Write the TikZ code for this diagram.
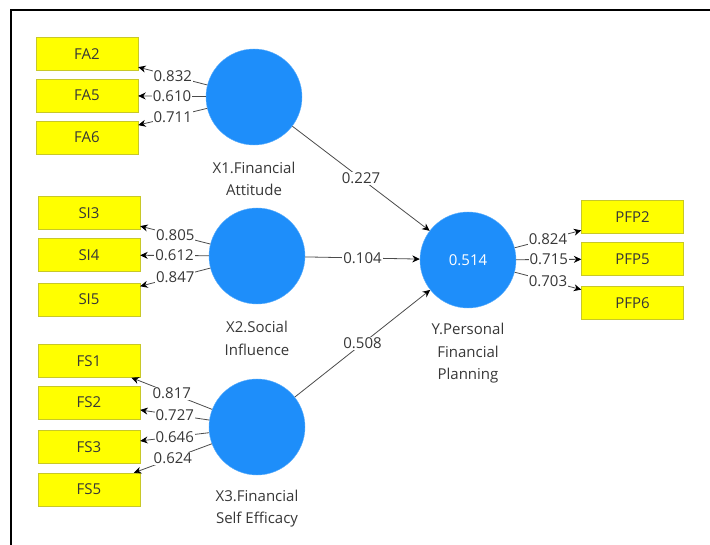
\documentclass[tikz,border=0pt]{standalone}
\usepackage{fontspec}
\setmainfont{Open Sans}
\usetikzlibrary{arrows.meta}
\definecolor{lvblue}{RGB}{30,142,250}
\definecolor{mvyellow}{RGB}{255,255,0}
\definecolor{mvedge}{RGB}{200,200,40}
\definecolor{txtgray}{RGB}{55,55,55}
\definecolor{linegray}{RGB}{75,75,75}

\begin{document}
\begin{tikzpicture}[x=1pt,y=-1pt,
  font=\fontsize{15}{22.5}\selectfont, text=txtgray,
  latent/.style={circle,fill=lvblue,draw=lvblue!70!white,minimum size=96pt,inner sep=0pt,text=white},
  mv/.style={rectangle,fill=mvyellow,draw=mvedge,minimum width=102pt,minimum height=33pt,inner sep=0pt},
  lname/.style={align=center},
  load/.style={fill=white,inner sep=1pt},
  conn/.style={draw=linegray,line width=0.8pt,-{Stealth[length=7.5pt,width=7pt,color=black]}}]
\useasboundingbox (0,0) rectangle (710,545);
\draw [line width=2pt] (11,545) -- (11,10) -- (710,10);

% latent variables
  \node (x1) at (254,97) [latent] {};
  \node (x2) at (257,256) [latent] {};
  \node (x3) at (257,427) [latent] {};
  \node (y) at (468,260) [latent] {0.514};

  \node (x1name) at (254,179) [lname] {X1.Financial\\Attitude};
  \node (x2name) at (257,338.5) [lname] {X2.Social\\Influence};
  \node (x3name) at (257,508.5) [lname] {X3.Financial\\Self Efficacy};
  \node (yname) at (468,353.5) [lname] {Y.Personal\\Financial\\Planning};

% indicators
  \node (fa2) at (87,54) [mv] {FA2};
  \node (fa5) at (87,95.5) [mv] {FA5};
  \node (fa6) at (87,137.5) [mv] {FA6};

  \node (si3) at (89,213) [mv] {SI3};
  \node (si4) at (89,255) [mv] {SI4};
  \node (si5) at (89,299.5) [mv] {SI5};

  \node (fs1) at (89,361) [mv] {FS1};
  \node (fs2) at (89,402.5) [mv] {FS2};
  \node (fs3) at (89,447) [mv] {FS3};
  \node (fs5) at (89,489.5) [mv] {FS5};

  \node (pfp2) at (632.5,217) [mv] {PFP2};
  \node (pfp5) at (632.5,259) [mv] {PFP5};
  \node (pfp6) at (632.5,303) [mv] {PFP6};

% outer loadings
  \draw [conn] (x1) -- node [load] {0.832} (fa2);
  \draw [conn] (x1) -- node [load] {0.610} (fa5);
  \draw [conn] (x1) -- node [load] {0.711} (fa6);

  \draw [conn] (x2) -- node [load] {0.805} (si3);
  \draw [conn] (x2) -- node [load] {0.612} (si4);
  \draw [conn] (x2) -- node [load] {0.847} (si5);

  \draw [conn] (x3) -- node [load] {0.817} (fs1);
  \draw [conn] (x3) -- node [load] {0.727} (fs2);
  \draw [conn] (x3) -- node [load] {0.646} (fs3);
  \draw [conn] (x3) -- node [load] {0.624} (fs5);

  \draw [conn] (y) -- node [load] {0.824} (pfp2);
  \draw [conn] (y) -- node [load] {0.715} (pfp5);
  \draw [conn] (y) -- node [load] {0.703} (pfp6);

% path coefficients
  \draw [conn] (x1) -- node [load] {0.227} (y);
  \draw [conn] (x2) -- node [load] {0.104} (y);
  \draw [conn] (x3) -- node [load] {0.508} (y);

\end{tikzpicture}
\end{document}
